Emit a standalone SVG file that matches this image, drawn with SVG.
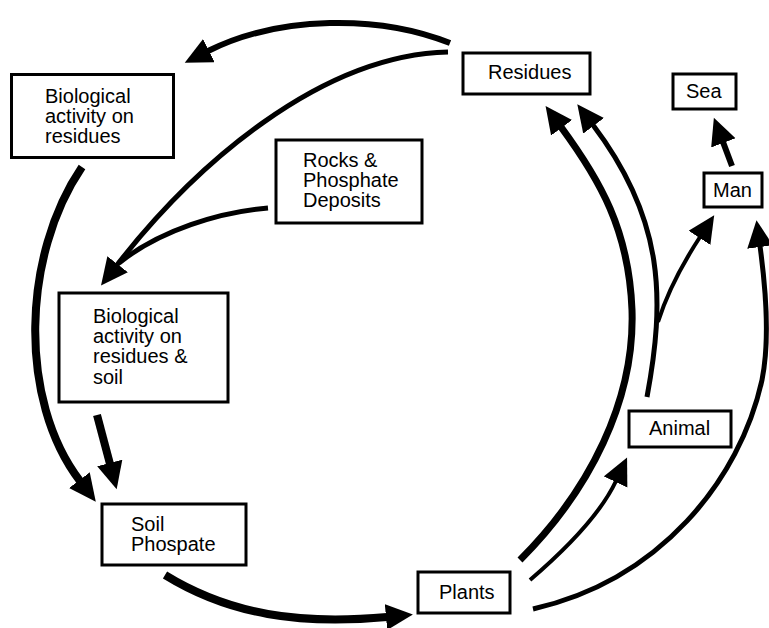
<svg xmlns="http://www.w3.org/2000/svg" width="769" height="628" viewBox="0 0 769 628">
<style>
.box{fill:#fff;stroke:#000;stroke-width:3}
.lbl{font-family:"Liberation Sans",Arial,sans-serif;font-size:20px;fill:#000}
.c{fill:none;stroke:#000;stroke-linecap:butt}
</style>
<defs>
<marker id="ah" markerUnits="userSpaceOnUse" markerWidth="30" markerHeight="28" refX="1" refY="13" orient="auto">
<path d="M0,0 L27,13 L0,26 Z" fill="#000"/>
</marker>
</defs>
<rect width="769" height="628" fill="#fff"/>
<g id="connectors">
<path class="c" d="M450,43 C380,15 280,15 208,51" stroke-width="6" marker-end="url(#ah)"/>
<path class="c" d="M448,52 C320,55 195,165 117,265" stroke-width="5" marker-end="url(#ah)"/>
<path class="c" d="M268,208 C220,212 160,230 119,263" stroke-width="5"/>
<path class="c" d="M82,167 C22,255 18,400 80,481" stroke-width="8" marker-end="url(#ah)"/>
<path class="c" d="M97,415 L110,464" stroke-width="8" marker-end="url(#ah)"/>
<path class="c" d="M165,575 C230,615 300,625 387,617" stroke-width="8" marker-end="url(#ah)"/>
<path class="c" d="M520,560 C590,490 635,400 632,310 C629,230 600,180 561,127" stroke-width="7" marker-end="url(#ah)"/>
<path class="c" d="M647,397 C665,300 665,220 593,125" stroke-width="5" marker-end="url(#ah)"/>
<path class="c" d="M658,322 C668,290 685,260 700,237" stroke-width="4" marker-end="url(#ah)"/>
<path class="c" d="M530,580 C565,550 600,515 616,481" stroke-width="4" marker-end="url(#ah)"/>
<path class="c" d="M533,609 C660,580 740,480 762,380 C770,340 766,290 760,246" stroke-width="5" marker-end="url(#ah)"/>
<path class="c" d="M732,166 L723,142" stroke-width="6" marker-end="url(#ah)"/>
</g>
<g id="bio-residues">
<rect class="box" x="11.5" y="74.5" width="162" height="83"/>
<text class="lbl" x="45" y="103">Biological</text>
<text class="lbl" x="45" y="123">activity on</text>
<text class="lbl" x="45" y="143">residues</text>
</g>
<g id="rocks">
<rect class="box" x="276" y="140" width="146" height="83"/>
<text class="lbl" x="303" y="167">Rocks &amp;</text>
<text class="lbl" x="303" y="187">Phosphate</text>
<text class="lbl" x="303" y="207">Deposits</text>
</g>
<g id="residues">
<rect class="box" x="463" y="53" width="127" height="41"/>
<text class="lbl" x="488" y="79">Residues</text>
</g>
<g id="sea">
<rect class="box" x="673" y="74" width="63" height="35"/>
<text class="lbl" x="686" y="98">Sea</text>
</g>
<g id="man">
<rect class="box" x="704" y="173" width="58" height="34"/>
<text class="lbl" x="713" y="197">Man</text>
</g>
<g id="bio-soil">
<rect class="box" x="59" y="293" width="169" height="109"/>
<text class="lbl" x="93" y="323">Biological</text>
<text class="lbl" x="93" y="343">activity on</text>
<text class="lbl" x="93" y="363">residues &amp;</text>
<text class="lbl" x="93" y="384">soil</text>
</g>
<g id="soil-phosphate">
<rect class="box" x="102" y="504" width="144" height="61"/>
<text class="lbl" x="131" y="531">Soil</text>
<text class="lbl" x="131" y="551">Phospate</text>
</g>
<g id="plants">
<rect class="box" x="418" y="572" width="92" height="41"/>
<text class="lbl" x="439" y="599">Plants</text>
</g>
<g id="animal">
<rect class="box" x="629" y="411" width="102" height="36"/>
<text class="lbl" x="649" y="435">Animal</text>
</g>
</svg>
